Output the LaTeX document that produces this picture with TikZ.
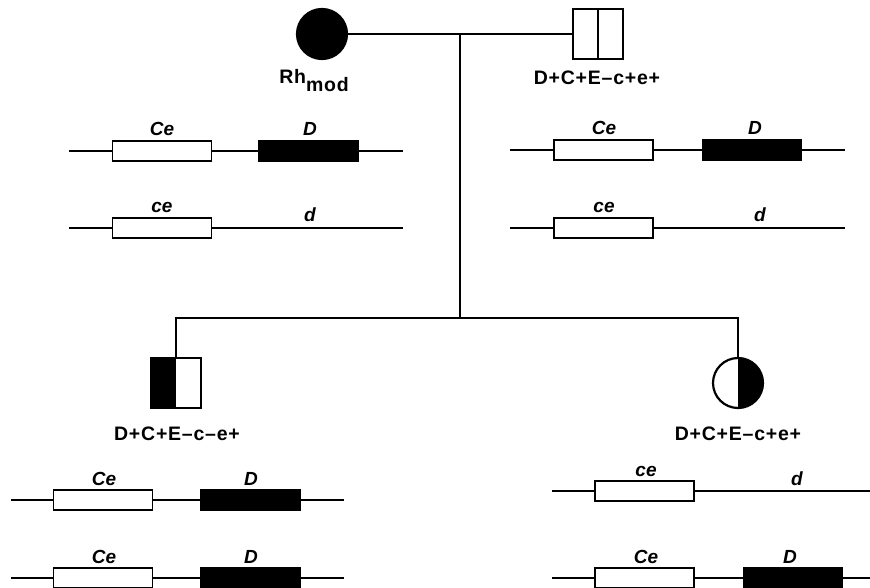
\documentclass[tikz,border=0pt]{standalone}
\usepackage{fontspec}
\setmainfont{Liberation Sans}
\newfontfamily\pedfont[LetterSpace=4]{Liberation Sans}
\begin{document}
\begin{tikzpicture}[x=1pt,y=-1pt,
  ped/.style={line width=2.4pt},
  sym/.style={draw, line width=2.2pt, minimum size=50pt, inner sep=0pt},
  pedlab/.style={anchor=base, inner sep=0pt, font=\pedfont\bfseries\fontsize{19.5}{22}\selectfont},
  gline/.style={line width=1.6pt},
  gbox/.style={draw, line width=1.6pt, minimum height=20pt, minimum width=99pt, inner sep=0pt, fill=white},
  dbox/.style={gbox, fill=black},
  glab/.style={anchor=base, inner sep=0pt, font=\bfseries\itshape\fontsize{19}{22}\selectfont}]
\useasboundingbox (0,0) rectangle (870,588);

% ---------- pedigree ----------
\node[sym, circle, fill=black] (mom) at (322,34) {};
\node[sym, rectangle, path picture={\draw[line width=2.2pt] (path picture bounding box.north) -- (path picture bounding box.south);}] (dad) at (598,34) {};
\node[sym, rectangle, path picture={\fill (path picture bounding box.north west) rectangle (path picture bounding box.south);}] (son) at (176,383) {};
\node[sym, circle, path picture={\fill (path picture bounding box.north) rectangle (path picture bounding box.south east);}] (dau) at (738,383) {};

\coordinate (mj) at (460,34);
\coordinate (sj) at (460,318);
\coordinate (sl) at (176,318);
\coordinate (sr) at (738,318);
\draw[ped] (mom) -- (dad);
\draw[ped] (mj) -- (sj);
\draw[ped] (son.north) -- (sl) -- (sr) -- (dau.north);

\node[pedlab] (lmom) at (314,84) {Rh\raisebox{-8pt}{mod}};
\node[pedlab] (ldad) at (597,85) {D+C+E–c+e+};
\node[pedlab] (lson) at (177,440) {D+C+E–c–e+};
\node[pedlab] (ldau) at (738,440) {D+C+E–c+e+};

% ---------- top-left haplotypes ----------
\coordinate (a1s) at (69,151); \coordinate (a1e) at (403,151);
\node[gbox] (a1w) at (162,151) {};
\node[dbox] (a1b) at (308.5,151) {};
\draw[gline] (a1s) -- (a1w) (a1w) -- (a1b) (a1b) -- (a1e);
\node[glab] (a1wl) at (162,136) {Ce};
\node[glab] (a1bl) at (310,136) {D};

\coordinate (a2s) at (69,228); \coordinate (a2e) at (403,228);
\node[gbox] (a2w) at (162,228) {};
\draw[gline] (a2s) -- (a2w) (a2w) -- (a2e);
\node[glab] (a2wl) at (162,213) {ce};
\node[glab] (a2dl) at (310,222) {d};

% ---------- top-right haplotypes ----------
\coordinate (b1s) at (510,150); \coordinate (b1e) at (845,150);
\node[gbox] (b1w) at (603.5,150) {};
\node[dbox] (b1b) at (752,150) {};
\draw[gline] (b1s) -- (b1w) (b1w) -- (b1b) (b1b) -- (b1e);
\node[glab] (b1wl) at (604,135) {Ce};
\node[glab] (b1bl) at (755,135) {D};

\coordinate (b2s) at (510,228); \coordinate (b2e) at (845,228);
\node[gbox] (b2w) at (603.5,228) {};
\draw[gline] (b2s) -- (b2w) (b2w) -- (b2e);
\node[glab] (b2wl) at (604,213) {ce};
\node[glab] (b2dl) at (760,222) {d};

% ---------- bottom-left haplotypes ----------
\coordinate (c1s) at (11,500); \coordinate (c1e) at (344,500);
\node[gbox] (c1w) at (103,500) {};
\node[dbox] (c1b) at (250.5,500) {};
\draw[gline] (c1s) -- (c1w) (c1w) -- (c1b) (c1b) -- (c1e);
\node[glab] (c1wl) at (104,485) {Ce};
\node[glab] (c1bl) at (251,485) {D};

\coordinate (c2s) at (11,578); \coordinate (c2e) at (344,578);
\node[gbox] (c2w) at (103,578) {};
\node[dbox] (c2b) at (250.5,578) {};
\draw[gline] (c2s) -- (c2w) (c2w) -- (c2b) (c2b) -- (c2e);
\node[glab] (c2wl) at (104,563) {Ce};
\node[glab] (c2bl) at (251,563) {D};

% ---------- bottom-right haplotypes ----------
\coordinate (d1s) at (552,491); \coordinate (d1e) at (870,491);
\node[gbox] (d1w) at (644.5,491) {};
\draw[gline] (d1s) -- (d1w) (d1w) -- (d1e);
\node[glab] (d1wl) at (646,476) {ce};
\node[glab] (d1dl) at (797,485) {d};

\coordinate (d2s) at (552,578); \coordinate (d2e) at (870,578);
\node[gbox] (d2w) at (644.5,578) {};
\node[dbox] (d2b) at (793,578) {};
\draw[gline] (d2s) -- (d2w) (d2w) -- (d2b) (d2b) -- (d2e);
\node[glab] (d2wl) at (646,563) {Ce};
\node[glab] (d2bl) at (790,563) {D};
\end{tikzpicture}
\end{document}
